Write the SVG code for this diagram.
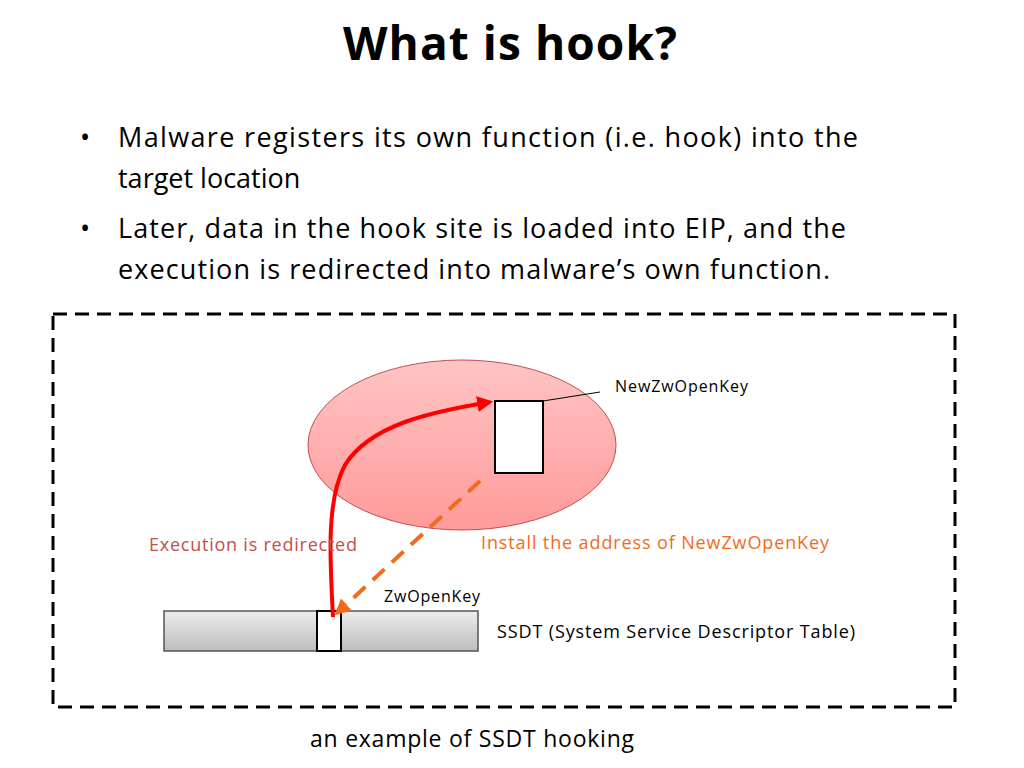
<svg xmlns="http://www.w3.org/2000/svg" width="1024" height="768" viewBox="0 0 1024 768">
<style>
text{font-family:"Open Sans","Liberation Sans",sans-serif;fill:#000}
.b{font-size:27px}
.s{font-size:16px}
</style>
<defs>
<linearGradient id="eg" x1="0" y1="0" x2="0" y2="1"><stop offset="0" stop-color="#ffc4c4"/><stop offset="1" stop-color="#ff9a9a"/></linearGradient>
<linearGradient id="bg" x1="0" y1="0" x2="0" y2="1"><stop offset="0" stop-color="#ededed"/><stop offset="1" stop-color="#bdbdbd"/></linearGradient>
<marker id="ar" viewBox="0 0 10 10" refX="8" refY="5" markerWidth="4" markerHeight="4" orient="auto"><path d="M0,0L10,5L0,10z" fill="#ff0000"/></marker>
<marker id="ao" viewBox="0 0 10 10" refX="8" refY="5" markerWidth="4" markerHeight="4" orient="auto"><path d="M0,0L10,5L0,10z" fill="#f26b1d"/></marker>
</defs>
<rect width="1024" height="768" fill="#fff"/>
<text x="510" y="60" text-anchor="middle" font-size="46" font-weight="bold" textLength="334">What is hook?</text>
<text x="80" y="147" class="b">•</text>
<text x="118" y="147" class="b" textLength="740">Malware registers its own function (i.e. hook) into the</text>
<text x="118" y="188" class="b">target location</text>
<text x="80" y="238" class="b">•</text>
<text x="118" y="238" class="b" textLength="728">Later, data in the hook site is loaded into EIP, and the</text>
<text x="118" y="279" class="b" textLength="712">execution is redirected into malware’s own function.</text>
<rect x="53" y="314" width="902" height="393" fill="none" stroke="#000" stroke-width="3" stroke-dasharray="14,8"/>
<g id="ellipse"><ellipse cx="462" cy="445" rx="154" ry="85" fill="url(#eg)" stroke="#c0504d" stroke-width="1"/></g>
<g id="newzw"><rect x="495" y="401" width="48" height="72" fill="#fff" stroke="#000" stroke-width="2"/>
<line x1="543" y1="401" x2="600" y2="392" stroke="#000" stroke-width="1"/>
<text x="615" y="392" class="s" textLength="133">NewZwOpenKey</text></g>
<g id="ssdt"><rect x="164" y="611" width="314" height="40" fill="url(#bg)" stroke="#555" stroke-width="1.5"/>
<rect x="317" y="611" width="24" height="40" fill="#fff" stroke="#000" stroke-width="2"/>
<text x="384" y="602" class="s" textLength="96">ZwOpenKey</text>
<text x="497" y="638" font-size="18" textLength="358">SSDT (System Service Descriptor Table)</text></g>
<g id="connectors">
<path d="M333,617 C330,560 326,500 345,465 C370,425 430,412 490,402" fill="none" stroke="#ff0000" stroke-width="4" marker-end="url(#ar)"/>
<line x1="480" y1="481" x2="337" y2="613" stroke="#f26b1d" stroke-width="4" stroke-dasharray="16,10" marker-end="url(#ao)"/>
</g>
<text x="149" y="551" font-size="18" style="fill:#c0504d" textLength="208">Execution is redirected</text>
<text x="481" y="549" font-size="18" style="fill:#f26b1d" textLength="348">Install the address of NewZwOpenKey</text>
<text x="310" y="747" font-size="23" textLength="324">an example of SSDT hooking</text>
</svg>
